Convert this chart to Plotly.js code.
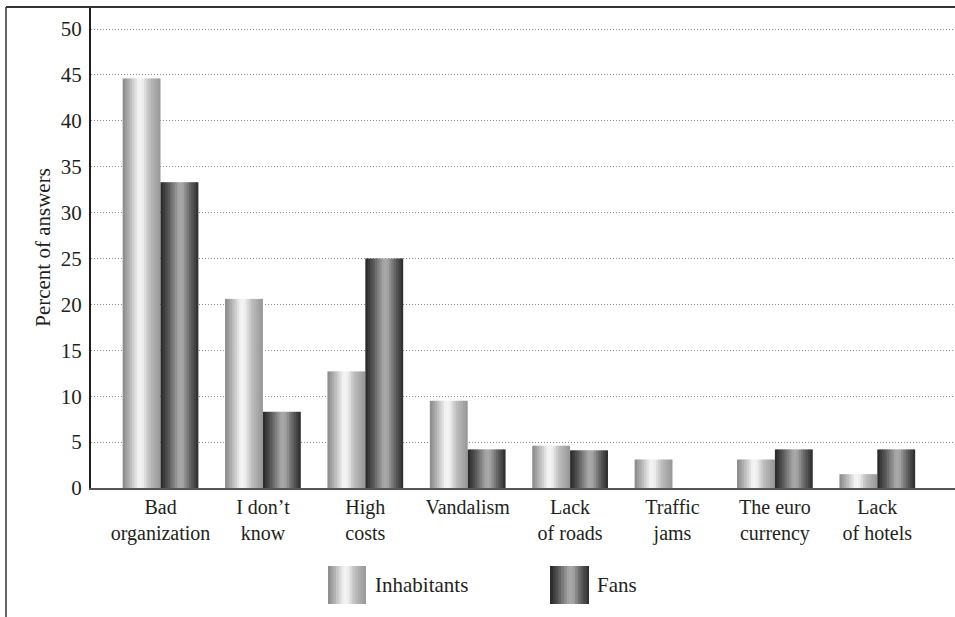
<!DOCTYPE html>
<html>
<head>
<meta charset="utf-8">
<script src="https://cdn.plot.ly/plotly-3.0.1.min.js"></script>
<style>html,body{margin:0;padding:0;background:#fff;}#chart{width:955px;height:617px;}</style>
</head>
<body>
<div id="chart"></div>
<script>
const categories = ['Bad<br>organization', 'I don\u2019t<br>know', 'High<br>costs', 'Vandalism', 'Lack<br>of roads', 'Traffic<br>jams', 'The euro<br>currency', 'Lack<br>of hotels'];
const inhabitants = [44.6, 20.6, 12.7, 9.5, 4.6, 3.1, 3.1, 1.5];
const fans = [33.3, 8.3, 25.0, 4.2, 4.1, 0, 4.2, 4.2];
const seriesNames = ['Inhabitants', 'Fans'];
const yTicks = [0, 5, 10, 15, 20, 25, 30, 35, 40, 45, 50];

// cylinder-like shading profiles (position 0..1 -> gray level)
const profiles = [
  [[0, 135], [0.2, 185], [0.42, 245], [0.52, 240], [0.7, 190], [1, 150]],
  [[0, 38], [0.2, 85], [0.5, 172], [0.6, 160], [0.8, 95], [1, 42]]
];
function grayAt(prof, t) {
  for (let i = 1; i < prof.length; i++) {
    if (t <= prof[i][0]) {
      const a = prof[i - 1], b = prof[i];
      const f = (t - a[0]) / (b[0] - a[0]);
      const g = Math.round(a[1] + f * (b[1] - a[1]));
      return 'rgb(' + g + ',' + g + ',' + g + ')';
    }
  }
  const g = prof[prof.length - 1][1];
  return 'rgb(' + g + ',' + g + ',' + g + ')';
}

const barW = 0.37;
const N = 16;
const sw = barW / N;
const traces = [];
[inhabitants, fans].forEach(function (vals, si) {
  for (let s = 0; s < N; s++) {
    const t = (s + 0.5) / N;
    traces.push({
      type: 'bar',
      x: categories,
      y: vals,
      name: seriesNames[si],
      legendgroup: seriesNames[si],
      showlegend: false,
      offset: (si === 0 ? -barW : 0) + s * sw,
      width: s < N - 1 ? sw * 1.35 : sw,
      marker: { color: grayAt(profiles[si], t), line: { width: 0 } },
      hoverinfo: 'skip'
    });
  }
});

// legend (large shaded swatches + labels), paper coordinates
const plotL = 91, plotW = 864, plotB = 488, plotH = 481;
const px = function (v) { return (v - plotL) / plotW; };
const py = function (v) { return (plotB - v) / plotH; };
const legendItems = [
  { name: seriesNames[0], x0: 328, x1: 366, tx: 373 },
  { name: seriesNames[1], x0: 550, x1: 589, tx: 595 }
];
const legendTop = 566, legendBottom = 604, legendMid = 585;
const font = "'Liberation Serif', 'Times New Roman', serif";

const shapes = [
  { type: 'line', xref: 'paper', yref: 'paper', x0: px(6), x1: px(6), y0: 1.0, y1: -0.3, line: { color: '#333', width: 1.5 } },
  { type: 'line', xref: 'paper', yref: 'paper', x0: px(6), x1: 1.01, y0: 1.0, y1: 1.0, line: { color: '#333', width: 2 } }
];
const annotations = [];
legendItems.forEach(function (it, si) {
  const M = 14;
  const w = (it.x1 - it.x0) / M;
  for (let s = 0; s < M; s++) {
    shapes.push({
      type: 'rect', xref: 'paper', yref: 'paper',
      x0: px(it.x0 + s * w), x1: px(it.x0 + (s + 1) * w + (s < M - 1 ? 0.6 : 0)),
      y0: py(legendTop), y1: py(legendBottom),
      fillcolor: grayAt(profiles[si], (s + 0.5) / M), line: { width: 0 }, layer: 'above'
    });
  }
  annotations.push({
    xref: 'paper', yref: 'paper', x: px(it.tx), y: py(legendMid),
    xanchor: 'left', yanchor: 'middle', showarrow: false, text: it.name,
    font: { family: font, size: 21, color: '#231f20' }
  });
});

const layout = {
  width: 955, height: 617,
  margin: { l: 91, r: 0, t: 7, b: 129 },
  paper_bgcolor: '#fff', plot_bgcolor: '#fff',
  barmode: 'overlay',
  showlegend: false,
  font: { family: font, size: 21, color: '#231f20' },
  xaxis: {
    type: 'category',
    range: [-0.679, 7.759],
    showgrid: false,
    showline: true, linecolor: '#555', linewidth: 2,
    ticks: '', tickfont: { family: font, size: 20, color: '#231f20' },
    fixedrange: true, zeroline: false
  },
  yaxis: {
    range: [0, 52.4],
    tickvals: yTicks,
    ticktext: yTicks.map(String),
    showgrid: true, gridcolor: '#8a8a8a', gridwidth: 1, griddash: '1px,2px',
    showline: true, linecolor: '#231f20', linewidth: 2,
    ticks: 'outside', ticklen: 3, tickcolor: 'rgba(0,0,0,0)',
    tickfont: { family: font, size: 21, color: '#231f20' },
    zeroline: false,
    title: { text: 'Percent of answers', font: { family: font, size: 21, color: '#231f20' }, standoff: 4 }
  },
  shapes: shapes,
  annotations: annotations
};
Plotly.newPlot('chart', traces, layout, { displayModeBar: false, staticPlot: true });
</script>
</body>
</html>
